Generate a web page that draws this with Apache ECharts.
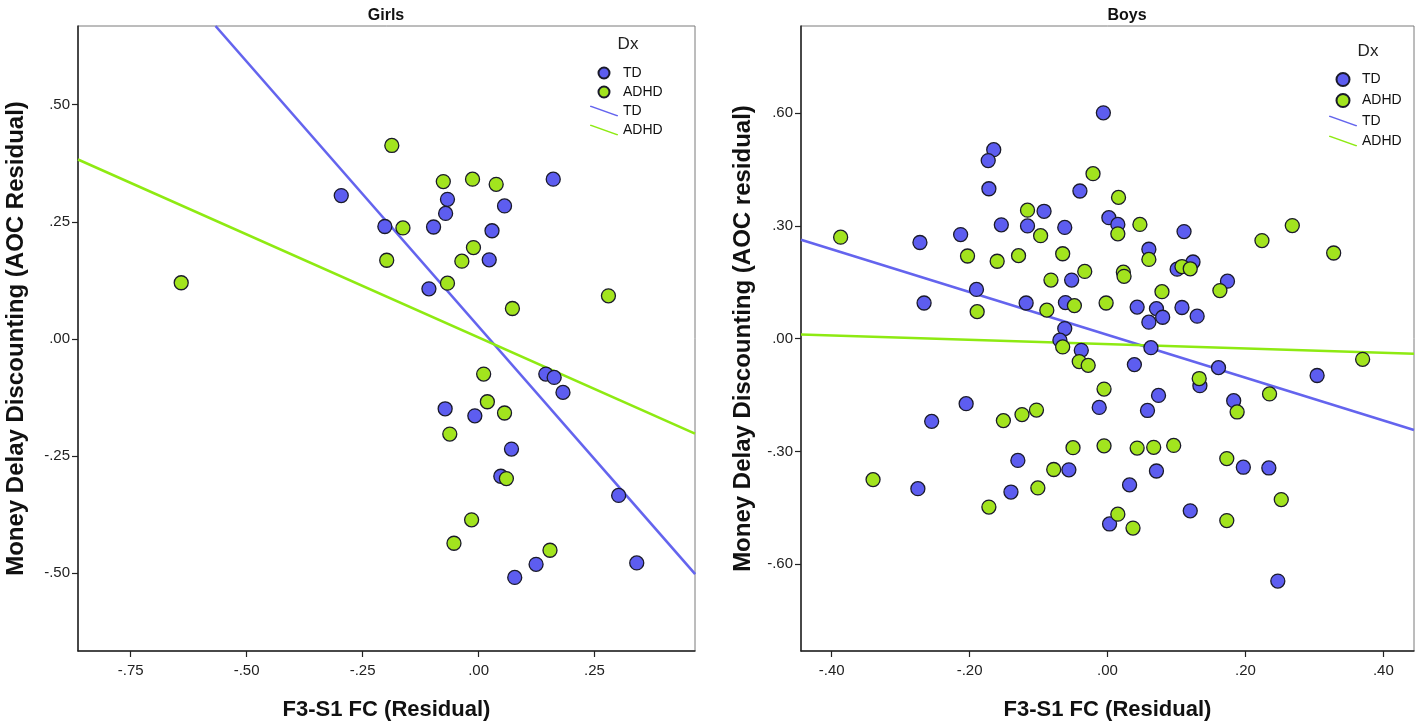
<!DOCTYPE html>
<html><head><meta charset="utf-8">
<script src="https://cdn.jsdelivr.net/npm/echarts@6/dist/echarts.min.js"></script>
<style>html,body{margin:0;padding:0;background:#fff}#c{width:1418px;height:726px}</style>
</head><body><div id="c"></div>
<script>
// ---- Data ----
const panelTitles = ['Girls', 'Boys'];
const girlsXTicks = [-0.75, -0.5, -0.25, 0, 0.25];
const girlsYTicks = [-0.5, -0.25, 0, 0.25, 0.5];
const boysXTicks = [-0.4, -0.2, 0, 0.2, 0.4];
const boysYTicks = [-0.6, -0.3, 0, 0.3, 0.6];

const girlsTD = [[-0.296,0.306],[-0.202,0.240],[-0.097,0.239],[-0.067,0.298],[-0.071,0.268],[0.029,0.231],[0.056,0.284],[0.023,0.169],[0.161,0.341],[-0.107,0.107],[0.145,-0.075],[0.163,-0.082],[0.182,-0.114],[-0.072,-0.149],[-0.008,-0.164],[0.071,-0.235],[0.048,-0.293],[0.302,-0.334],[0.341,-0.478],[0.124,-0.481],[0.078,-0.509]];
const girlsADHD = [[-0.641,0.120],[-0.187,0.413],[-0.076,0.336],[-0.013,0.341],[0.038,0.330],[-0.163,0.237],[-0.198,0.168],[-0.036,0.166],[-0.011,0.195],[-0.067,0.119],[0.073,0.065],[0.280,0.092],[0.011,-0.075],[0.019,-0.134],[0.056,-0.158],[-0.062,-0.203],[0.060,-0.298],[-0.015,-0.386],[-0.053,-0.436],[0.154,-0.451]];
const girlsTDFit = [[-0.567,0.668],[0.467,-0.502]];
const girlsADHDFit = [[-0.8635,0.383],[0.4666,-0.202]];

const boysTD = [[-0.006,0.601],[-0.165,0.503],[-0.173,0.474],[-0.172,0.399],[-0.040,0.393],[-0.092,0.339],[-0.154,0.303],[-0.116,0.300],[-0.062,0.296],[0.002,0.322],[0.015,0.304],[-0.213,0.277],[-0.272,0.256],[0.111,0.285],[0.060,0.238],[0.101,0.185],[0.124,0.204],[0.174,0.153],[-0.052,0.156],[-0.190,0.131],[-0.266,0.095],[-0.118,0.095],[-0.061,0.096],[0.043,0.084],[0.071,0.080],[0.080,0.057],[0.060,0.044],[0.108,0.083],[0.130,0.060],[-0.062,0.027],[-0.069,-0.004],[-0.038,-0.031],[0.063,-0.024],[0.039,-0.069],[0.161,-0.077],[0.304,-0.098],[0.134,-0.125],[0.074,-0.151],[0.183,-0.165],[-0.205,-0.173],[-0.012,-0.183],[0.058,-0.191],[-0.255,-0.220],[-0.130,-0.324],[-0.056,-0.349],[0.071,-0.352],[0.197,-0.342],[0.234,-0.344],[-0.275,-0.399],[-0.140,-0.408],[0.032,-0.389],[0.120,-0.458],[0.003,-0.493],[0.247,-0.645]];
const boysADHD = [[-0.387,0.270],[-0.021,0.439],[0.016,0.376],[-0.116,0.342],[-0.097,0.274],[0.047,0.304],[0.015,0.279],[0.268,0.301],[0.224,0.261],[0.328,0.228],[-0.203,0.220],[-0.129,0.221],[-0.065,0.226],[-0.160,0.206],[0.060,0.211],[0.108,0.192],[0.120,0.186],[-0.033,0.179],[0.023,0.177],[0.024,0.166],[-0.082,0.156],[0.163,0.128],[0.079,0.125],[-0.002,0.095],[-0.048,0.088],[-0.088,0.076],[-0.189,0.072],[-0.065,-0.022],[0.370,-0.055],[-0.041,-0.061],[-0.028,-0.071],[0.133,-0.106],[-0.005,-0.134],[0.235,-0.147],[0.188,-0.195],[-0.103,-0.190],[-0.124,-0.202],[-0.151,-0.218],[-0.050,-0.290],[-0.005,-0.285],[0.043,-0.291],[0.067,-0.289],[0.096,-0.284],[0.173,-0.319],[-0.078,-0.348],[-0.340,-0.375],[-0.101,-0.397],[-0.172,-0.448],[0.252,-0.428],[0.015,-0.467],[0.173,-0.484],[0.037,-0.504]];
const boysTDFit = [[-0.4445,0.263],[0.4445,-0.243]];
const boysADHDFit = [[-0.4445,0.011],[0.4445,-0.040]];

// ---- Styling ----
const TD_FILL = '#5d5df0', ADHD_FILL = '#a2e41e';
const TD_LINE = '#6464ee', ADHD_LINE = '#8eea12';
const NARROW = '"Liberation Sans Narrow", "Arial Narrow", "Liberation Sans", Arial, sans-serif';
const SANS = '"Liberation Sans", Arial, sans-serif';
const fmt = v => (Math.abs(v) < 1e-9 ? 0 : v).toFixed(2).replace('0.', '.');
const LINE_ICON = 'path://M0,0 L1.4,0 L28,9.4 L28,10.5 L26.6,10.5 L0,1.1 Z';

function xAx(gi, min, max, ticks) {
  return {
    type: 'value', gridIndex: gi, min: min, max: max,
    name: 'F3-S1 FC (Residual)', nameLocation: 'middle', nameGap: 48,
    nameTextStyle: { fontFamily: SANS, fontWeight: 'bold', fontSize: 22, color: '#111' },
    axisLine: { show: true, onZero: false, lineStyle: { color: '#222', width: 1.5 } },
    axisTick: { show: true, customValues: ticks, length: 6, lineStyle: { color: '#222', width: 1.2 } },
    axisLabel: { customValues: ticks, formatter: fmt, fontFamily: NARROW, fontSize: 15, color: '#222', margin: 12 },
    splitLine: { show: false }
  };
}
function yAx(gi, min, max, ticks, name, gap) {
  return {
    type: 'value', gridIndex: gi, min: min, max: max,
    name: name, nameLocation: 'middle', nameGap: gap,
    nameTextStyle: { fontFamily: SANS, fontWeight: 'bold', fontSize: 24, color: '#111' },
    axisLine: { show: true, onZero: false, lineStyle: { color: '#222', width: 1.5 } },
    axisTick: { show: true, customValues: ticks, length: 6, lineStyle: { color: '#222', width: 1.2 } },
    axisLabel: { customValues: ticks, formatter: fmt, fontFamily: NARROW, fontSize: 15, color: '#222', margin: 8 },
    splitLine: { show: false }
  };
}
function pts(name, gi, data, fill, size) {
  return {
    name: name, type: 'scatter', xAxisIndex: gi, yAxisIndex: gi, data: data,
    symbol: 'circle', symbolSize: size, z: 5, color: fill,
    itemStyle: { color: fill, borderColor: '#1a1a2a', borderWidth: 1.3, opacity: 1 },
    emphasis: { disabled: true }
  };
}
function fit(name, gi, data, col) {
  return {
    name: name, type: 'line', xAxisIndex: gi, yAxisIndex: gi, data: data,
    showSymbol: false, symbol: 'none', clip: true, z: 3, color: col,
    lineStyle: { color: col, width: 2.6 }, emphasis: { disabled: true }, silent: true
  };
}
function legend(left, top, h, gap) {
  return {
    orient: 'vertical', left: left, top: top, itemWidth: 28, itemHeight: h, itemGap: gap,
    textStyle: { fontFamily: SANS, fontSize: 14, color: '#111' },
    selectedMode: false,
    data: [
      { name: 'TD', icon: 'circle' },
      { name: 'ADHD', icon: 'circle' },
      { name: 'TD ', icon: LINE_ICON },
      { name: 'ADHD ', icon: LINE_ICON }
    ]
  };
}

const option = {
  backgroundColor: '#fff',
  animation: false,
  title: [
    { text: panelTitles[0], left: 381, top: 3, textAlign: 'center', textStyle: { fontFamily: NARROW, fontWeight: 'bold', fontSize: 16, color: '#111' } },
    { text: panelTitles[1], left: 1122, top: 3, textAlign: 'center', textStyle: { fontFamily: NARROW, fontWeight: 'bold', fontSize: 16, color: '#111' } },
    { text: 'Dx', left: 623, top: 31, textAlign: 'center', textStyle: { fontFamily: NARROW, fontWeight: 'normal', fontSize: 17, color: '#222' } },
    { text: 'Dx', left: 1363, top: 38, textAlign: 'center', textStyle: { fontFamily: NARROW, fontWeight: 'normal', fontSize: 17, color: '#222' } }
  ],
  legend: [legend(585, 61, 11, 5), legend(1324, 67, 13, 6)],
  grid: [
    { left: 78, top: 26, width: 617, height: 629, show: true, borderColor: '#7a7a7a', borderWidth: 1, backgroundColor: 'transparent' },
    { left: 801, top: 26, width: 613, height: 628, show: true, borderColor: '#7a7a7a', borderWidth: 1, backgroundColor: 'transparent' }
  ],
  xAxis: [ xAx(0, -0.8635, 0.4666, girlsXTicks), xAx(1, -0.4445, 0.4445, boysXTicks) ],
  yAxis: [
    yAx(0, -0.666, 0.668, girlsYTicks, 'Money Delay Discounting (AOC Residual)', 50),
    yAx(1, -0.831, 0.832, boysYTicks, 'Money Delay Discounting (AOC residual)', 46)
  ],
  series: [
    fit('TD ', 0, girlsTDFit, TD_LINE),
    fit('ADHD ', 0, girlsADHDFit, ADHD_LINE),
    pts('TD', 0, girlsTD, TD_FILL, 14),
    pts('ADHD', 0, girlsADHD, ADHD_FILL, 14),
    fit('TD ', 1, boysTDFit, TD_LINE),
    fit('ADHD ', 1, boysADHDFit, ADHD_LINE),
    pts('TD', 1, boysTD, TD_FILL, 14),
    pts('ADHD', 1, boysADHD, ADHD_FILL, 14)
  ]
};
const chart = echarts.init(document.getElementById('c'), null, { renderer: 'canvas' });
chart.setOption(option);
</script>
</body></html>
